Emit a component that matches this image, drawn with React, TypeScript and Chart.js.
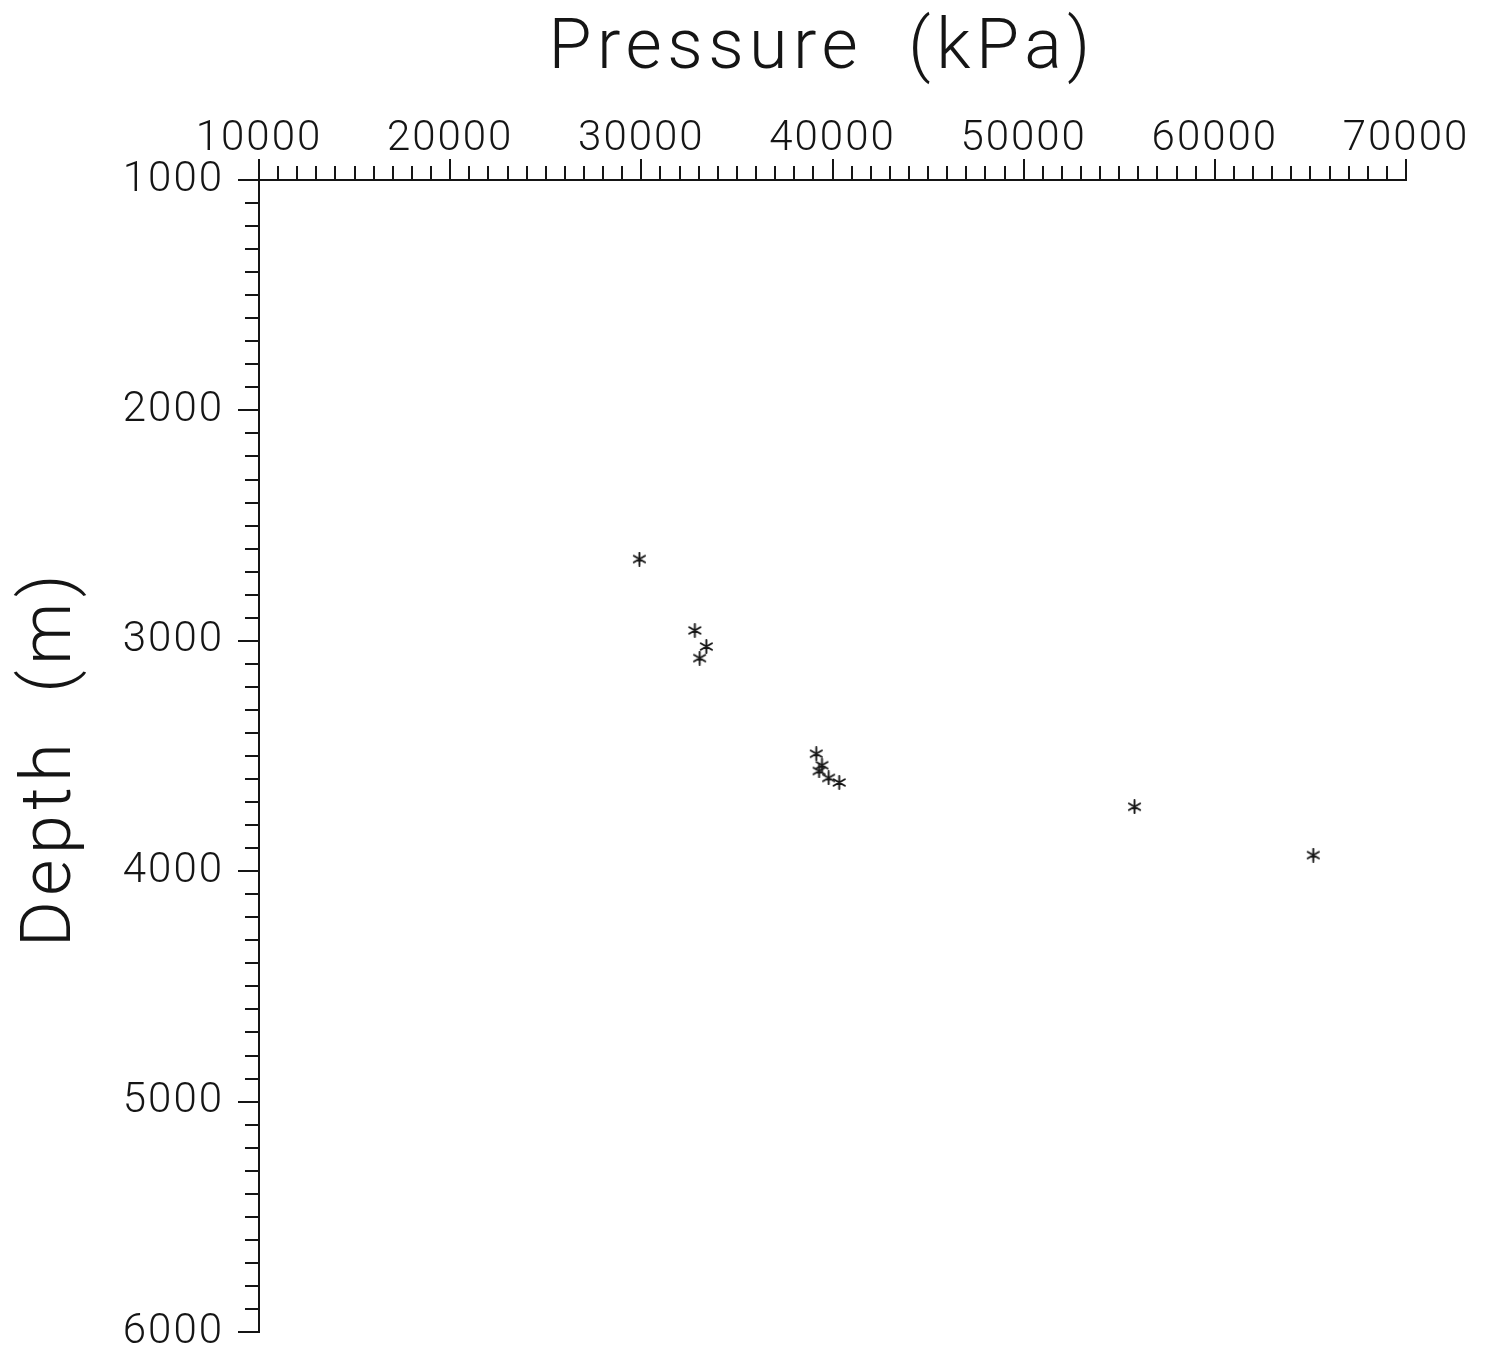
import { useEffect, useRef } from 'react';
import { Chart, registerables } from 'chart.js';

Chart.register(...registerables);

// Measured pressure vs. depth samples
const pressureKPa = [29900, 32800, 33400, 33050, 39150, 39450, 39300, 39800, 40350, 55800, 65150];
const depthM = [2645, 2955, 3025, 3075, 3490, 3540, 3565, 3595, 3615, 3720, 3930];

// Axis ranges and tick marks
const pressureTicks = [10000, 20000, 30000, 40000, 50000, 60000, 70000];
const depthTicks = [1000, 2000, 3000, 4000, 5000, 6000];
const pressureMinorStep = 1000;
const depthMinorStep = 100;

const xTitle = 'Pressure  (kPa)';
const yTitle = 'Depth  (m)';

const INK = '#151515';
const FONT_FAMILY = 'Roboto, "DejaVu Sans", sans-serif';

// Six-armed asterisk marker
function makeAsterisk(size: number, lineWidth: number): HTMLCanvasElement {
  const c = document.createElement('canvas');
  c.width = size;
  c.height = size;
  const g = c.getContext('2d')!;
  const r = size / 2 - 1;
  const cx = size / 2;
  const cy = size / 2;
  g.strokeStyle = INK;
  g.lineWidth = lineWidth;
  g.lineCap = 'round';
  g.beginPath();
  for (let k = 0; k < 3; k++) {
    const a = Math.PI / 2 + (k * Math.PI) / 3;
    g.moveTo(cx + r * Math.cos(a), cy + r * Math.sin(a));
    g.lineTo(cx - r * Math.cos(a), cy - r * Math.sin(a));
  }
  g.stroke();
  return c;
}

const axisDecor = {
  id: 'axisDecor',
  beforeDraw(chart: any) {
    chart.ctx.letterSpacing = '2px';
  },
  afterDraw(chart: any) {
    const { ctx, chartArea, scales } = chart;
    const xs = scales.x;
    const ys = scales.y;
    ctx.save();
    ctx.strokeStyle = INK;
    ctx.lineWidth = 2;
    ctx.beginPath();
    for (let v = xs.min; v <= xs.max + 1e-6; v += pressureMinorStep) {
      const px = Math.round(xs.getPixelForValue(v));
      const len = pressureTicks.includes(v) ? 21 : 14;
      ctx.moveTo(px, chartArea.top);
      ctx.lineTo(px, chartArea.top - len);
    }
    for (let v = ys.min; v <= ys.max + 1e-6; v += depthMinorStep) {
      const py = Math.round(ys.getPixelForValue(v));
      const len = depthTicks.includes(v) ? 21 : 14;
      ctx.moveTo(chartArea.left, py);
      ctx.lineTo(chartArea.left - len, py);
    }
    ctx.stroke();

    // Axis titles
    ctx.fillStyle = INK;
    ctx.font = `300 70px ${FONT_FAMILY}`;
    ctx.letterSpacing = '5.5px';
    ctx.textAlign = 'center';
    ctx.textBaseline = 'alphabetic';
    ctx.fillText(xTitle, 822, 68);
    ctx.translate(70, 758);
    ctx.rotate(-Math.PI / 2);
    ctx.fillText(yTitle, 0, 0);
    ctx.restore();
  },
};

export default function App() {
  const canvasRef = useRef<HTMLCanvasElement | null>(null);

  useEffect(() => {
    document.body.style.margin = '0';
    document.body.style.overflow = 'hidden';
    const canvas = canvasRef.current!;
    const marker = makeAsterisk(15, 1.9);
    const chart = new Chart(canvas, {
      type: 'scatter',
      data: {
        datasets: [
          {
            data: pressureKPa.map((p, i) => ({ x: p, y: depthM[i] })),
            pointStyle: marker,
            pointRadius: 7,
            showLine: false,
          },
        ],
      },
      options: {
        responsive: false,
        animation: false,
        events: [],
        layout: { padding: { left: 0, top: 0, right: 82, bottom: 26 } },
        plugins: {
          legend: { display: false },
          tooltip: { enabled: false },
        },
        scales: {
          x: {
            type: 'linear',
            position: 'top',
            min: pressureTicks[0],
            max: pressureTicks[pressureTicks.length - 1],
            afterBuildTicks: (s: any) => {
              s.ticks = pressureTicks.map((v) => ({ value: v }));
            },
            afterFit: (s: any) => {
              s.height = 180;
              s.paddingLeft = 0;
              s.paddingRight = 0;
            },
            ticks: {
              autoSkip: false,
              maxRotation: 0,
              padding: 15,
              color: INK,
              font: { family: FONT_FAMILY, size: 42, weight: '300' as any },
              callback: (v: any) => String(v),
            },
            grid: { display: true, drawOnChartArea: false, drawTicks: false },
            border: { display: true, color: INK, width: 2 },
          },
          y: {
            type: 'linear',
            reverse: true,
            min: depthTicks[0],
            max: depthTicks[depthTicks.length - 1],
            afterBuildTicks: (s: any) => {
              s.ticks = depthTicks.map((v) => ({ value: v }));
            },
            afterFit: (s: any) => {
              s.width = 259;
              s.paddingTop = 0;
              s.paddingBottom = 0;
            },
            ticks: {
              autoSkip: false,
              padding: 35,
              color: INK,
              font: { family: FONT_FAMILY, size: 42, weight: '300' as any },
              callback: (v: any) => String(v),
            },
            grid: { display: true, drawOnChartArea: false, drawTicks: false },
            border: { display: true, color: INK, width: 2 },
          },
        },
      },
      plugins: [axisDecor],
    });
    return () => chart.destroy();
  }, []);

  return <canvas ref={canvasRef} width={1488} height={1358} style={{ display: 'block' }} />;
}
